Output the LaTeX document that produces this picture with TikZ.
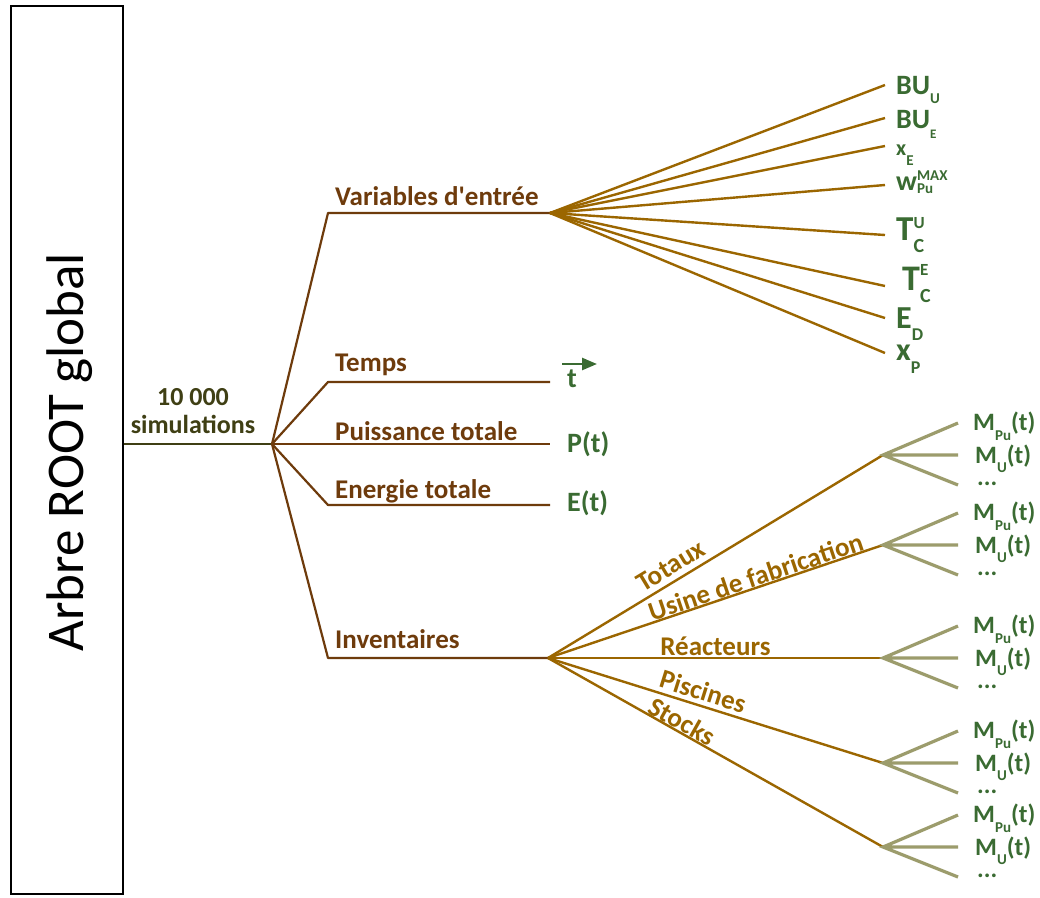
\documentclass[tikz,border=0pt]{standalone}
\usepackage{fontspec}
\setmainfont{Carlito}
\usetikzlibrary{arrows.meta}
\definecolor{stemc}{HTML}{3F3F14}
\definecolor{brownc}{HTML}{6E3B0C}
\definecolor{goldc}{HTML}{9B6600}
\definecolor{olivec}{HTML}{9C9C6C}
\definecolor{greenc}{HTML}{3A6B32}
\newcommand{\mylow}[3]{\raisebox{-#1}{\fontsize{#2}{#2}\selectfont #3}}
\newcommand{\myup}[3]{\raisebox{#1}{\fontsize{#2}{#2}\selectfont #3}}
\tikzset{
  trunk/.style={draw=stemc, line width=2.2pt},
  br/.style={draw=brownc, line width=2.2pt, line join=round},
  gold/.style={draw=goldc, line width=2.4pt},
  twig/.style={draw=olivec, line width=3.2pt},
  blbl/.style={text=brownc, font=\bfseries\fontsize{27}{30}\selectfont, inner sep=0pt, anchor=base west},
  glbl/.style={text=greenc, font=\bfseries\fontsize{28}{30}\selectfont, inner sep=0pt, anchor=base west},
  mlbl/.style={text=greenc, font=\bfseries\fontsize{25}{28}\selectfont, inner sep=0pt, anchor=base west},
  golbl/.style={text=goldc, font=\bfseries\fontsize{27}{29}\selectfont, sloped, above, inner sep=2pt}
}
\begin{document}
\begin{tikzpicture}[x=1pt,y=-1pt]
\useasboundingbox (0,0) rectangle (1040,897);
\fill[white] (0,0) rectangle (1040,897);
% box
\node[draw=black, line width=1.6pt, minimum width=112pt, minimum height=888pt, anchor=north west, inner sep=0pt] (box) at (10,5) {};
\node[rotate=90, font=\fontsize{53}{60}\selectfont, inner sep=0pt] (boxtxt) at (70,452) {Arbre ROOT global};
% trunk
\coordinate (hub) at (272,444);
\draw[trunk] (box.east |- hub) -- (hub);
\node[text=stemc, font=\bfseries\fontsize{26}{28}\selectfont, align=center, inner sep=0pt] (sims) at (193,411) {10 000\\simulations};
% main branches
\coordinate (v1) at (328,213); \coordinate (vh) at (550,213);
\coordinate (t1) at (328,382); \coordinate (t2) at (550,382);
\coordinate (p2) at (550,444);
\coordinate (e1) at (328,505); \coordinate (e2) at (550,505);
\coordinate (i1) at (328,658); \coordinate (ih) at (548,658);
\draw[br] (hub) -- (v1) -- (vh);
\draw[br] (hub) -- (t1) -- (t2);
\draw[br] (hub) -- (p2);
\draw[br] (hub) -- (e1) -- (e2);
\draw[br] (hub) -- (i1) -- (ih);
\node[blbl] (lvar) at (335,205) {Variables d\textquotesingle entrée};
\node[blbl] (ltemps) at (335,371) {Temps};
\node[blbl] (lpuis) at (335,440) {Puissance totale};
\node[blbl] (lener) at (335,498) {Energie totale};
\node[blbl] (linv) at (335,648) {Inventaires};
% green leaves of the simple branches
\node[glbl] (tv) at (567,387) {t};
\coordinate (ta) at (562,364); \coordinate (tb) at (597,364);
\draw[greenc, line width=2.5pt, -{Triangle[length=15pt,width=12pt]}] (ta) -- (tb);
\node[glbl] (pt) at (567,452) {P(t)};
\node[glbl] (et) at (567,511) {E(t)};
% variable fan
\foreach \k/\y in {1/85,2/118,3/146,4/185,5/235,6/286,7/318,8/353}{
  \coordinate (f\k) at (885,\y);
  \draw[gold] (vh) -- (f\k);
}
\node[glbl] (bu1) at (896,94) {BU\mylow{9pt}{15}{U}};
\node[glbl] (bu2) at (896,128) {BU\mylow{10pt}{13}{E}};
\node[glbl, font=\bfseries\fontsize{22}{24}\selectfont] (xe) at (896,155) {x\mylow{10pt}{15}{E}};
\node[glbl] (wpu) at (896,190) {w\rlap{\mylow{3pt}{15}{Pu}}\myup{10pt}{15}{MAX}};
\node[glbl, font=\bfseries\fontsize{35}{38}\selectfont] (tcu) at (896,240) {T\rlap{\myup{12pt}{17}{U}}\mylow{12pt}{20}{C}};
\node[glbl, font=\bfseries\fontsize{36}{38}\selectfont] (tce) at (902,290) {T\rlap{\myup{15pt}{17}{E}}\mylow{12pt}{20}{C}};
\node[glbl, font=\bfseries\fontsize{32}{34}\selectfont] (ed) at (896,328) {E\mylow{12pt}{18}{D}};
\node[glbl, font=\bfseries\fontsize{32}{34}\selectfont] (xp) at (896,360) {x\mylow{13pt}{18}{P}};
% inventory branches
\coordinate (ga) at (883,455);
\coordinate (gb) at (883,545);
\coordinate (gc) at (883,658);
\coordinate (gd) at (883,763);
\coordinate (ge) at (883,847);
\draw[gold] (ih) -- node[golbl, pos=0.39, inner sep=5pt] (ltot) {Totaux} (ga);
\draw[gold] (ih) -- node[golbl, pos=0.63, inner sep=0pt] (lusi) {Usine de fabrication} (gb);
\draw[gold] (ih) -- node[golbl, pos=0.5, inner sep=1pt] (lrea) {Réacteurs} (gc);
\draw[gold] (ih) -- node[golbl, pos=0.45, inner sep=4pt] (lpis) {Piscines} (gd);
\draw[gold] (ih) -- node[golbl, pos=0.385, inner sep=0pt] (lsto) {Stocks} (ge);
\foreach \n/\y in {a/455,b/545,c/658,d/763,e/847}{
  \coordinate (g\n1) at (958,\y-32);
  \coordinate (g\n2) at (958,\y);
  \coordinate (g\n3) at (958,\y+30);
  \draw[twig] (g\n1) -- (g\n) -- (g\n3) (g\n) -- (g\n2);
  \node[mlbl] (mpu\n) at (973,\y-25) {M\mylow{10pt}{15}{Pu}(t)};
  \node[mlbl] (mu\n) at (975,\y+8) {M\mylow{9pt}{15}{U}(t)};
  \node[mlbl] (dots\n) at (977,\y+30) {...};
}
\end{tikzpicture}
\end{document}
